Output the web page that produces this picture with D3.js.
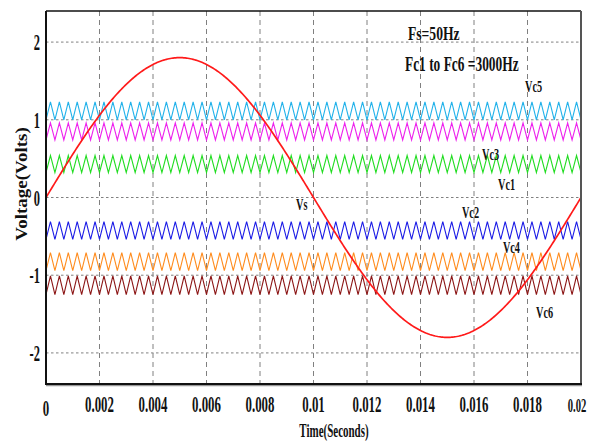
<!DOCTYPE html>
<html>
<head>
<meta charset="utf-8">
<script src="https://cdn.jsdelivr.net/npm/d3@7"></script>
<style>
  html, body { margin: 0; padding: 0; background: #fff; }
  svg { display: block; }
  text { font-family: "Liberation Serif", "Times New Roman", serif; font-weight: bold; fill: #111; }
</style>
</head>
<body>
<svg id="chart" width="595" height="444"></svg>
<script>
// Source and carrier settings
const sourceFreq = [50];          // Hz
const sourceAmp = [1.8];          // V peak
const carrierFreq = [3000];       // Hz
const duration = [0.02];          // s

// Level-shifted triangular carriers, top band to bottom band
const carrierBands = ["band1", "band2", "band3", "band4", "band5", "band6"];
const carrierLow  = [1.00, 0.74, 0.32, -0.54, -0.94, -1.25];
const carrierHigh = [1.23, 0.96, 0.54, -0.31, -0.71, -1.01];

// Axis ticks
const xTicks = [0, 0.002, 0.004, 0.006, 0.008, 0.01, 0.012, 0.014, 0.016, 0.018, 0.02];
const xTickLabels = ["0", "0.002", "0.004", "0.006", "0.008", "0.01", "0.012", "0.014", "0.016", "0.018", "0.02"];
const yTicks = [-2, -1, 0, 1, 2];
const yTickLabels = ["-2", "-1", "0", "1", "2"];

// Curve labels (text, time, voltage)
const labelTexts = ["Vc5", "Vc3", "Vc1", "Vc2", "Vc4", "Vc6", "Vs"];
const labelTimes = [0.01791, 0.0163, 0.0169, 0.01555, 0.01708, 0.01832, 0.00935];
const labelVolts = [1.358, 0.483, 0.097, -0.264, -0.714, -1.551, -0.161];

const carrierColors = ["#22b2ea", "#ee22ee", "#22dd22", "#1c1ce6", "#ff8c1e", "#8c1616"];
const sourceColor = "#ff1a1a";

(function draw() {
  const svg = d3.select("#chart");
  const pLeft = 46, pRight = 581, pTop = 11, pBottom = 384;

  const x = d3.scaleLinear().domain([0, duration[0]]).range([pLeft, pRight]);
  const y = d3.scaleLinear().domain([-2.4, 2.4]).range([pBottom, pTop]);

  // Grid: dashed verticals, dotted horizontals
  const grid = svg.append("g");
  grid.selectAll("line.v").data(xTicks.slice(1, -1)).join("line")
    .attr("class", "v")
    .attr("x1", d => x(d)).attr("x2", d => x(d))
    .attr("y1", pTop).attr("y2", pBottom)
    .attr("stroke", "#808080").attr("stroke-width", 1)
    .attr("stroke-dasharray", "5,4");
  grid.selectAll("line.h").data(yTicks).join("line")
    .attr("class", "h")
    .attr("x1", pLeft).attr("x2", pRight)
    .attr("y1", d => y(d)).attr("y2", d => y(d))
    .attr("stroke", "#808080").attr("stroke-width", 1)
    .attr("stroke-dasharray", "2.5,2.5");

  // Carriers: triangle vertices at every half period, starting at the trough
  const halfPeriod = 1 / carrierFreq[0] / 2;
  const nHalf = Math.round(duration[0] / halfPeriod);
  const line = d3.line().x(d => x(d[0])).y(d => y(d[1]));

  const carriers = carrierBands.map((b, i) => {
    const pts = [];
    for (let k = 0; k <= nHalf; k++) pts.push([k * halfPeriod, k % 2 === 0 ? carrierLow[i] : carrierHigh[i]]);
    return pts;
  });
  svg.append("g").selectAll("path").data(carriers).join("path")
    .attr("d", line)
    .attr("fill", "none")
    .attr("stroke", (d, i) => carrierColors[i])
    .attr("stroke-width", 1.1);

  // Sinusoidal reference Vs
  const nS = 400;
  const sine = d3.range(nS + 1).map(k => {
    const t = k * duration[0] / nS;
    return [t, sourceAmp[0] * Math.sin(2 * Math.PI * sourceFreq[0] * t)];
  });
  svg.append("path").datum(sine)
    .attr("d", line)
    .attr("fill", "none")
    .attr("stroke", sourceColor)
    .attr("stroke-width", 1.7);

  // Frame
  svg.append("line").attr("x1", pLeft).attr("x2", pRight).attr("y1", pTop).attr("y2", pTop)
    .attr("stroke", "#111").attr("stroke-width", 1.6);
  svg.append("line").attr("x1", pRight).attr("x2", pRight).attr("y1", pTop).attr("y2", pBottom)
    .attr("stroke", "#555").attr("stroke-width", 2);
  svg.append("line").attr("x1", pLeft).attr("x2", pRight + 1).attr("y1", pBottom + 1.5).attr("y2", pBottom + 1.5)
    .attr("stroke", "#999").attr("stroke-width", 1.5);
  svg.append("line").attr("x1", pLeft).attr("x2", pRight + 1).attr("y1", pBottom).attr("y2", pBottom)
    .attr("stroke", "#111").attr("stroke-width", 2);
  svg.append("line").attr("x1", pLeft).attr("x2", pLeft).attr("y1", pTop).attr("y2", pBottom + 1)
    .attr("stroke", "#111").attr("stroke-width", 2);

  // Narrow text helper
  function label(g, txt, px, py, size, sx, anchor) {
    return g.append("text")
      .attr("transform", `translate(${px},${py}) scale(${sx},1)`)
      .attr("font-size", size)
      .attr("text-anchor", anchor || "start")
      .text(txt);
  }

  // Tick labels
  const tl = svg.append("g");
  xTicks.forEach((v, i) => {
    const first = i === 0, last = i === xTicks.length - 1;
    label(tl, xTickLabels[i], x(v) - (last ? 4 : 0), first ? 416 : 412, last ? 19 : 23, 0.56, "middle");
  });
  yTicks.forEach((v, i) => {
    label(tl, yTickLabels[i], 40, y(v) + 8, 24, 0.52, "end");
  });

  // Axis titles
  label(svg, "Time(Seconds)", 334, 437, 18, 0.61, "middle");
  svg.append("text")
    .attr("transform", "translate(27,184) rotate(-90) scale(1,0.85)")
    .attr("font-size", 19)
    .attr("text-anchor", "middle")
    .text("Voltage(Volts)");

  // Annotations
  label(svg, "Fs=50Hz", x(0.01353), y(2.027), 19.5, 0.70, "start");
  label(svg, "Fc1 to Fc6 =3000Hz", x(0.01342), y(1.628), 20, 0.67, "start");
  labelTexts.forEach((t, i) => {
    label(svg, t, x(labelTimes[i]), y(labelVolts[i]), 16, 0.64, "start");
  });
})();
</script>
</body>
</html>
